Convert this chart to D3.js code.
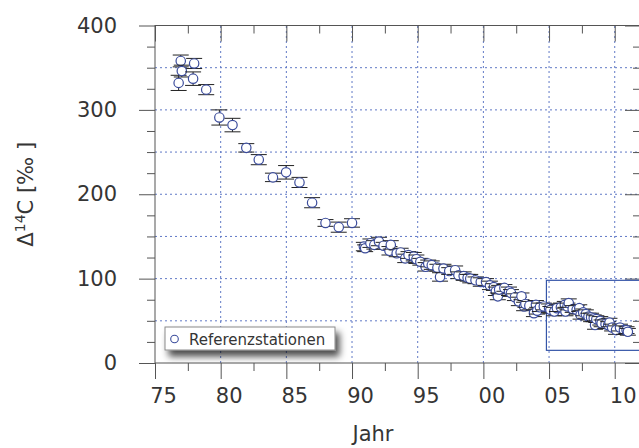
<!DOCTYPE html>
<html>
<head>
<meta charset="utf-8">
<script src="https://cdn.jsdelivr.net/npm/d3@7"></script>
<style>
  html, body { margin: 0; padding: 0; background: #fff; }
  svg { display: block; }
  text { font-family: "DejaVu Sans", Verdana, sans-serif; fill: #353535; }
</style>
</head>
<body>
<svg id="chart" width="639" height="448"></svg>
<script>
// Δ14C measurements at the reference stations (year, value in ‰, 1σ uncertainty)
const years = [
  1976.80, 1976.96, 1977.04, 1977.90, 1977.98, 1978.90, 1979.90, 1980.90, 1981.95, 1982.90,
  1983.98, 1984.98, 1986.00, 1986.96, 1987.98, 1988.99, 1990.00,
  1990.90, 1991.00, 1991.40, 1991.70, 1992.05, 1992.40, 1992.85, 1992.95, 1993.40, 1993.70,
  1994.05, 1994.30, 1994.70, 1994.90, 1995.20, 1995.60, 1995.80, 1996.07, 1996.50, 1996.70,
  1996.96, 1997.40, 1997.85, 1998.10, 1998.50, 1998.80, 1999.00, 1999.40, 1999.80, 2000.20,
  2000.50, 2000.80, 2000.95, 2001.10, 2001.20, 2001.60, 2001.95, 2002.10, 2002.40, 2002.70,
  2002.90, 2003.10, 2003.20, 2003.50, 2003.85, 2004.00, 2004.10, 2004.30, 2004.60, 2005.00,
  2005.10, 2005.40, 2005.60, 2005.90, 2006.20, 2006.25, 2006.40, 2006.50, 2006.80, 2007.10,
  2007.30, 2007.40, 2007.60, 2007.80, 2008.00, 2008.20, 2008.40, 2008.50, 2008.60, 2008.90,
  2009.00, 2009.30, 2009.50, 2009.60, 2009.80, 2010.10, 2010.40, 2010.70, 2010.90, 2011.00
];
const delta14C = [
  332, 358, 346, 337, 355, 324, 291, 282, 255, 241,
  220, 226, 214, 190, 166, 161, 166,
  138, 136, 142, 140, 144, 139, 133, 140, 130, 131,
  124, 128, 126, 123, 120, 114, 118, 116, 113, 102,
  112, 109, 110, 104, 103, 101, 100, 98, 96, 96,
  92, 90, 85, 79, 87, 89, 85, 83, 78, 73,
  79, 67, 70, 68, 59, 69, 62, 66, 67, 65,
  63, 61, 65, 66, 69, 61, 67, 71, 64, 63,
  65, 57, 60, 58, 55, 54, 53, 45, 52, 50,
  47, 46, 45, 48, 42, 39, 42, 39, 39, 37
];
const errors = [
  9, 7, 7, 8, 6, 6, 9, 8, 5, 6,
  5, 8, 6, 6, 4, 6, 5,
  5, 4, 5, 5, 5, 4, 5, 5, 4, 5,
  5, 4, 5, 5, 4, 5, 4, 5, 4, 5,
  5, 4, 5, 4, 5, 4, 5, 4, 5, 4,
  5, 4, 5, 4, 5, 4, 5, 4, 4, 5,
  4, 5, 4, 5, 4, 5, 4, 5, 4, 5,
  4, 5, 4, 5, 4, 5, 4, 5, 4, 5,
  4, 5, 4, 5, 4, 5, 4, 5, 4, 5,
  4, 5, 4, 5, 4, 5, 4, 5, 4, 4
];

// Axis ticks
const majorYears = [1975, 1980, 1985, 1990, 1995, 2000, 2005, 2010];
const minorYears = [1977.5, 1982.5, 1987.5, 1992.5, 1997.5, 2002.5, 2007.5];
const majorValues = [0, 100, 200, 300, 400];
const minorValues = [25, 50, 75, 125, 150, 175, 225, 250, 275, 325, 350, 375];
const gridYears = [1980, 1985, 1990, 1995, 2000, 2005, 2010];
const gridValues = [50, 100, 150, 200, 250, 300, 350];

// Highlighted recent period
const zoomYears = [2004.8, 2012];
const zoomValues = [15, 98];

const legendLabel = "Referenzstationen";
const xTitle = "Jahr";

const svg = d3.select("#chart");
const x = d3.scaleLinear().domain([1975, 2012]).range([155, 641]);
const y = d3.scaleLinear().domain([0, 400]).range([363, 25.5]);

const axisColor = "#555";
const gridColor = "#6079c6";
const markColor = "#3b4c9c";

// Dotted grid
const grid = svg.append("g");
grid.selectAll("line.gx").data(gridYears).join("line")
  .attr("x1", d => x(d)).attr("x2", d => x(d))
  .attr("y1", y(0)).attr("y2", y(400))
  .attr("stroke", gridColor).attr("stroke-width", 1).attr("stroke-dasharray", "2,3");
grid.selectAll("line.gy").data(gridValues).join("line")
  .attr("x1", x(1975)).attr("x2", x(2012))
  .attr("y1", d => y(d)).attr("y2", d => y(d))
  .attr("stroke", gridColor).attr("stroke-width", 1).attr("stroke-dasharray", "2,3");

// Frame
svg.append("rect")
  .attr("x", x(1975)).attr("y", y(400))
  .attr("width", x(2012) - x(1975)).attr("height", y(0) - y(400))
  .attr("fill", "none").attr("stroke", axisColor).attr("stroke-width", 1);

function styleAxis(g) {
  g.select(".domain").remove();
  g.selectAll(".tick line").attr("stroke", axisColor).attr("stroke-width", 1);
}

// Bottom axis (outer ticks, labels)
svg.append("g").attr("transform", `translate(0,${y(0)})`)
  .call(d3.axisBottom(x).tickValues(majorYears).tickSize(16).tickPadding(9)
    .tickFormat(d => String(d % 100).padStart(2, "0")))
  .call(styleAxis)
  .call(g => g.selectAll("text").attr("font-size", 21).attr("dx", 8)
    .style("font-family", "'DejaVu Sans', Verdana, sans-serif").attr("fill", "#353535"));
svg.append("g").attr("transform", `translate(0,${y(0)})`)
  .call(d3.axisBottom(x).tickValues(minorYears).tickSize(8).tickFormat(""))
  .call(styleAxis);

// Top axis (inner ticks)
svg.append("g").attr("transform", `translate(0,${y(400)})`)
  .call(d3.axisBottom(x).tickValues(majorYears).tickSize(16).tickFormat(""))
  .call(styleAxis);
svg.append("g").attr("transform", `translate(0,${y(400)})`)
  .call(d3.axisBottom(x).tickValues(minorYears).tickSize(8).tickFormat(""))
  .call(styleAxis);

// Left axis (outer ticks, labels)
svg.append("g").attr("transform", `translate(${x(1975)},0)`)
  .call(d3.axisLeft(y).tickValues(majorValues).tickSize(16).tickPadding(22))
  .call(styleAxis)
  .call(g => g.selectAll("text").attr("font-size", 21)
    .style("font-family", "'DejaVu Sans', Verdana, sans-serif").attr("fill", "#353535"));
svg.append("g").attr("transform", `translate(${x(1975)},0)`)
  .call(d3.axisLeft(y).tickValues(minorValues).tickSize(8).tickFormat(""))
  .call(styleAxis);

// Right axis (inner ticks)
svg.append("g").attr("transform", `translate(${x(2012)},0)`)
  .call(d3.axisLeft(y).tickValues(majorValues).tickSize(16).tickFormat(""))
  .call(styleAxis);
svg.append("g").attr("transform", `translate(${x(2012)},0)`)
  .call(d3.axisLeft(y).tickValues(minorValues).tickSize(8).tickFormat(""))
  .call(styleAxis);

// Axis titles
svg.append("text")
  .attr("x", 373).attr("y", 441)
  .attr("text-anchor", "middle").attr("font-size", 21)
  .text(xTitle);

const yTitle = svg.append("text")
  .attr("transform", `translate(33,${(y(0) + y(400)) / 2}) rotate(-90)`)
  .attr("text-anchor", "middle").attr("font-size", 21);
yTitle.append("tspan").text("Δ");
yTitle.append("tspan").attr("font-size", 14).attr("dy", -8).text("14");
yTitle.append("tspan").attr("dy", 8).text("C [‰ ]");

// Highlight box for the recent period
svg.append("rect")
  .attr("x", x(zoomYears[0])).attr("y", y(zoomValues[1]))
  .attr("width", x(zoomYears[1]) - x(zoomYears[0]))
  .attr("height", y(zoomValues[0]) - y(zoomValues[1]))
  .attr("fill", "none").attr("stroke", "#3555a8").attr("stroke-width", 1.2);

// Data points with error bars
const points = years.map((t, i) => ({ t, v: delta14C[i], e: errors[i] }));
const capHalf = 8;
const pts = svg.append("g").selectAll("g").data(points).join("g");
pts.append("line")
  .attr("x1", d => x(d.t)).attr("x2", d => x(d.t))
  .attr("y1", d => y(d.v + d.e)).attr("y2", d => y(d.v - d.e))
  .attr("stroke", "#222").attr("stroke-width", 1);
pts.append("line")
  .attr("x1", d => x(d.t) - capHalf).attr("x2", d => x(d.t) + capHalf)
  .attr("y1", d => y(d.v + d.e)).attr("y2", d => y(d.v + d.e))
  .attr("stroke", "#222").attr("stroke-width", 1);
pts.append("line")
  .attr("x1", d => x(d.t) - capHalf).attr("x2", d => x(d.t) + capHalf)
  .attr("y1", d => y(d.v - d.e)).attr("y2", d => y(d.v - d.e))
  .attr("stroke", "#222").attr("stroke-width", 1);
pts.append("circle")
  .attr("cx", d => x(d.t)).attr("cy", d => y(d.v)).attr("r", 4.7)
  .attr("fill", "#fff").attr("stroke", markColor).attr("stroke-width", 1.2);

// Legend with drop shadow
const defs = svg.append("defs");
const f = defs.append("filter").attr("id", "shadow")
  .attr("x", "-20%").attr("y", "-50%").attr("width", "140%").attr("height", "220%");
f.append("feDropShadow").attr("dx", 4).attr("dy", 6).attr("stdDeviation", 3.5)
  .attr("flood-color", "#000").attr("flood-opacity", 0.7);

const legend = svg.append("g").attr("transform", "translate(165,327)");
legend.append("rect")
  .attr("width", 170).attr("height", 23)
  .attr("fill", "#fff").attr("stroke", "#8a8a8a").attr("stroke-width", 1)
  .attr("filter", "url(#shadow)");
legend.append("circle")
  .attr("cx", 9.5).attr("cy", 12).attr("r", 3.8)
  .attr("fill", "#fff").attr("stroke", markColor).attr("stroke-width", 1.1);
legend.append("text")
  .attr("x", 24).attr("y", 17.5).attr("font-size", 15)
  .text(legendLabel);
</script>
</body>
</html>
